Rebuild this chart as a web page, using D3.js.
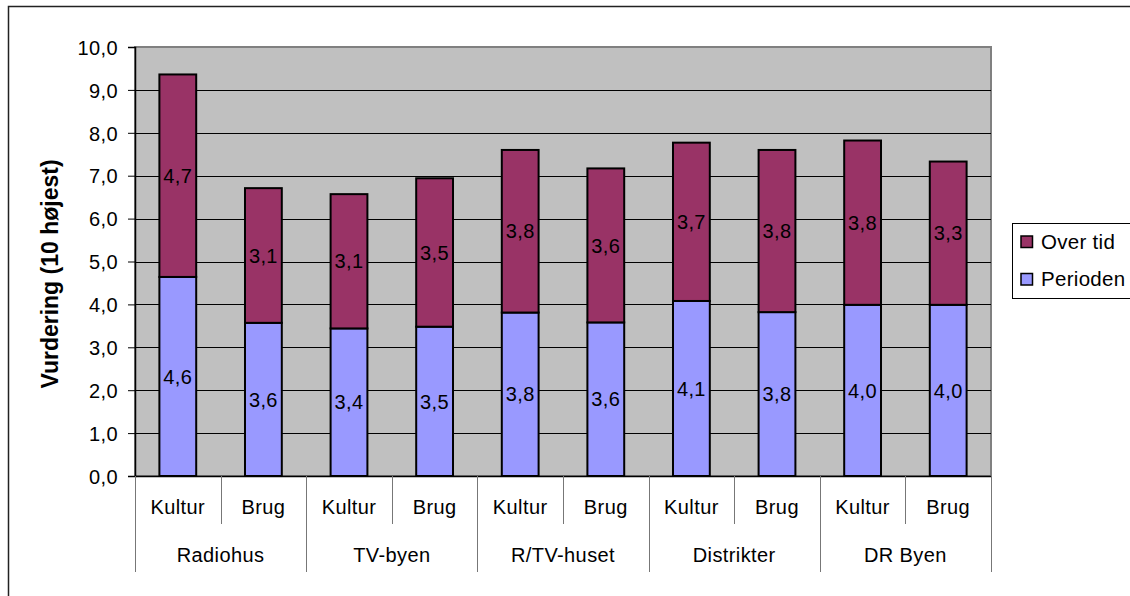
<!DOCTYPE html>
<html>
<head>
<meta charset="utf-8">
<script src="https://cdn.jsdelivr.net/npm/d3@7"></script>
<style>
  html, body { margin: 0; padding: 0; background: #fff; }
  svg { display: block; }
  text { font-family: "Liberation Sans", Arial, sans-serif; fill: #000; }
</style>
</head>
<body>
<svg id="chart" width="1130" height="596"></svg>
<script>
const groups = ["Radiohus", "TV-byen", "R/TV-huset", "Distrikter", "DR Byen"];
const subCategories = ["Kultur", "Brug"];
const seriesNames = ["Over tid", "Perioden"];
const perioden = [4.64, 3.57, 3.44, 3.48, 3.81, 3.58, 4.08, 3.82, 3.99, 3.99];
const overTid  = [4.72, 3.14, 3.13, 3.46, 3.79, 3.59, 3.69, 3.78, 3.83, 3.34];
const yTicks = [0, 1, 2, 3, 4, 5, 6, 7, 8, 9, 10];
const yTitle = "Vurdering (10 højest)";

const colors = { "Perioden": "#9999FF", "Over tid": "#993366" };

const svg = d3.select("#chart");
const plot = { left: 135, right: 991, top: 47, bottom: 476 };

// chart frame (extends beyond the viewport on right and bottom)
svg.append("rect")
  .attr("x", 8.5).attr("y", 6.5).attr("width", 1200).attr("height", 700)
  .attr("fill", "#fff").attr("stroke", "#222").attr("stroke-width", 1.5);

const cats = [];
groups.forEach(g => subCategories.forEach(s => cats.push(g + "|" + s)));

const x = d3.scaleBand().domain(cats).range([plot.left, plot.right]).padding(0);
const y = d3.scaleLinear().domain([0, 10]).range([plot.bottom, plot.top]);

// plot background
svg.append("rect")
  .attr("x", plot.left).attr("y", plot.top)
  .attr("width", plot.right - plot.left).attr("height", plot.bottom - plot.top)
  .attr("fill", "#C0C0C0").attr("stroke", "#808080").attr("stroke-width", 2);

// gridlines
svg.append("g").selectAll("line").data(yTicks.filter(d => d > 0 && d < 10)).join("line")
  .attr("x1", plot.left).attr("x2", plot.right)
  .attr("y1", d => Math.round(y(d)) + 0.5).attr("y2", d => Math.round(y(d)) + 0.5)
  .attr("stroke", "#000").attr("stroke-width", 1);

// y axis
const fmt = v => d3.format(".1f")(v).replace(".", ",");
const yAxis = d3.axisLeft(y).tickValues(yTicks).tickFormat(fmt).tickSize(7).tickPadding(10);
const yg = svg.append("g").attr("transform", `translate(${plot.left},0)`).call(yAxis);
yg.select(".domain").attr("stroke", "#000").attr("stroke-width", 1.5);
yg.selectAll(".tick line").attr("stroke", "#000");
yg.selectAll(".tick text").attr("font-size", 20).attr("font-family", "Liberation Sans, Arial, sans-serif")
  .attr("fill", "#000").attr("letter-spacing", 0.4).attr("dy", "0.36em");

// stacked bars
const barW = x.bandwidth() * 0.43;
const data = cats.map((c, i) => ({ c, p: perioden[i], o: overTid[i] }));
const bars = svg.append("g");
data.forEach(d => {
  const cx = x(d.c) + x.bandwidth() / 2;
  bars.append("rect")
    .attr("x", cx - barW / 2).attr("y", y(d.p))
    .attr("width", barW).attr("height", y(0) - y(d.p))
    .attr("fill", colors["Perioden"]).attr("stroke", "#000").attr("stroke-width", 2);
  bars.append("rect")
    .attr("x", cx - barW / 2).attr("y", y(d.p + d.o))
    .attr("width", barW).attr("height", y(d.p) - y(d.p + d.o))
    .attr("fill", colors["Over tid"]).attr("stroke", "#000").attr("stroke-width", 2);
  bars.append("text")
    .attr("x", cx).attr("y", (y(0) + y(d.p)) / 2).attr("dy", "0.36em")
    .attr("text-anchor", "middle").attr("font-size", 20).attr("letter-spacing", 0.4)
    .text(fmt(d.p));
  bars.append("text")
    .attr("x", cx).attr("y", (y(d.p) + y(d.p + d.o)) / 2).attr("dy", "0.36em")
    .attr("text-anchor", "middle").attr("font-size", 20).attr("letter-spacing", 0.4)
    .text(fmt(d.o));
});

// x axis line
svg.append("line")
  .attr("x1", plot.left).attr("x2", plot.right)
  .attr("y1", plot.bottom + 0.5).attr("y2", plot.bottom + 0.5)
  .attr("stroke", "#000").attr("stroke-width", 1.5);

// category separators
const xg = svg.append("g");
cats.forEach((c, i) => {
  if (i % 2 === 1) {
    const xx = Math.round(x(c)) + 0.5;
    xg.append("line").attr("x1", xx).attr("x2", xx)
      .attr("y1", plot.bottom).attr("y2", 524).attr("stroke", "#777").attr("stroke-width", 1);
  }
});
groups.forEach((g, gi) => {
  const xx = Math.round(x(g + "|" + subCategories[0])) + 0.5;
  xg.append("line").attr("x1", xx).attr("x2", xx)
    .attr("y1", plot.bottom).attr("y2", 572).attr("stroke", "#777").attr("stroke-width", 1);
});
{
  const xx = plot.right + 0.5;
  xg.append("line").attr("x1", xx).attr("x2", xx)
    .attr("y1", plot.bottom).attr("y2", 572).attr("stroke", "#777").attr("stroke-width", 1);
}
// sub category labels
cats.forEach(c => {
  xg.append("text")
    .attr("x", x(c) + x.bandwidth() / 2).attr("y", 514)
    .attr("text-anchor", "middle").attr("font-size", 20).attr("letter-spacing", 0.4)
    .text(c.split("|")[1]);
});
// group labels
groups.forEach(g => {
  const x0 = x(g + "|" + subCategories[0]);
  const x1 = x(g + "|" + subCategories[subCategories.length - 1]) + x.bandwidth();
  xg.append("text")
    .attr("x", (x0 + x1) / 2).attr("y", 562)
    .attr("text-anchor", "middle").attr("font-size", 20).attr("letter-spacing", 0.4)
    .text(g);
});

// y axis title
svg.append("text")
  .attr("transform", "translate(58,274) rotate(-90)")
  .attr("text-anchor", "middle").attr("font-size", 23).attr("font-weight", "bold")
  .text(yTitle);

// legend
const lg = svg.append("g");
lg.append("rect").attr("x", 1012.5).attr("y", 223.5).attr("width", 140).attr("height", 75)
  .attr("fill", "#fff").attr("stroke", "#000").attr("stroke-width", 1);
seriesNames.forEach((s, i) => {
  const yy = 236 + i * 37.5;
  lg.append("rect").attr("x", 1021).attr("y", yy).attr("width", 11.5).attr("height", 11.5)
    .attr("fill", colors[s]).attr("stroke", "#000").attr("stroke-width", 1.5);
  lg.append("text").attr("x", 1041).attr("y", yy + 12.5)
    .attr("font-size", 20.5).attr("letter-spacing", 0.3).text(s);
});
</script>
</body>
</html>
